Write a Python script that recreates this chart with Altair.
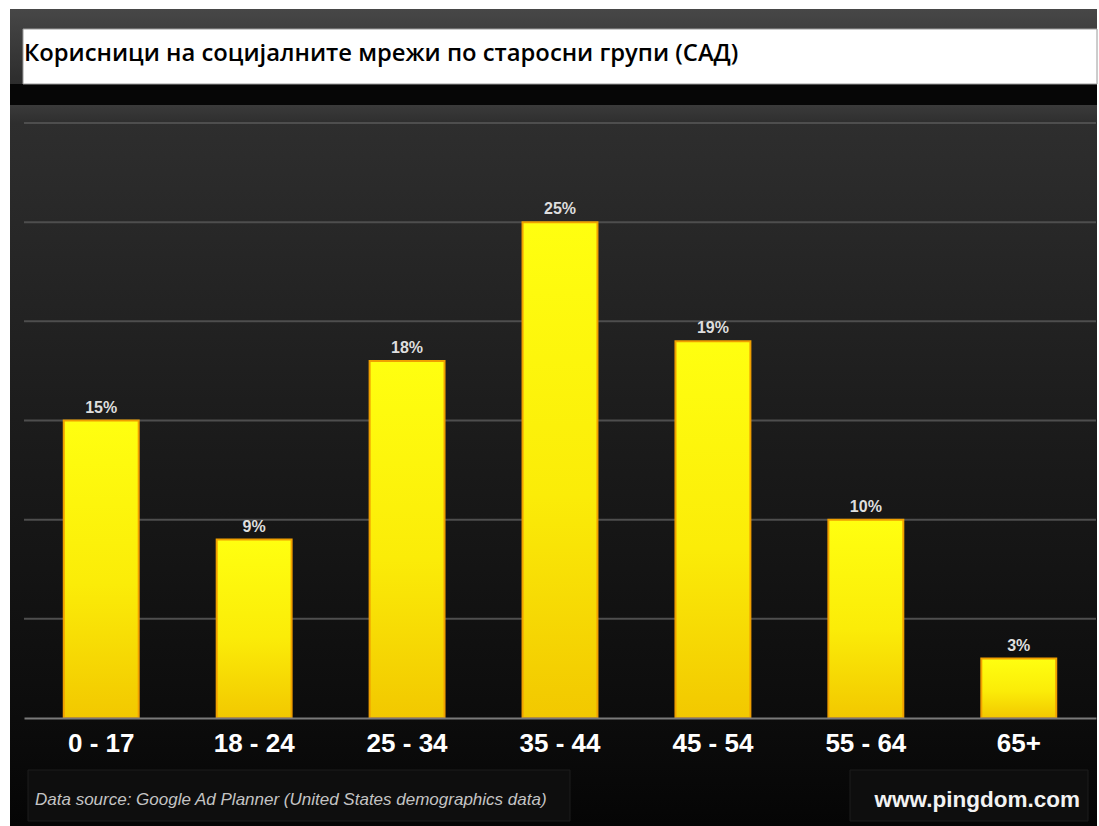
import altair as alt
import pandas as pd

# ---- data ----
groups = ["0 - 17", "18 - 24", "25 - 34", "35 - 44", "45 - 54", "55 - 64", "65+"]
values = [15, 9, 18, 25, 19, 10, 3]
value_labels = ["15%", "9%", "18%", "25%", "19%", "10%", "3%"]
grid_values = [5, 10, 15, 20, 25, 30]
title_text = "Корисници на социјалните мрежи по старосни групи (САД)"
source_text = "Data source: Google Ad Planner (United States demographics data)"
brand_text = "www.pingdom.com"

W, H = 1072, 595

df = pd.DataFrame({"group": groups, "value": values, "label": value_labels})
grid_df = pd.DataFrame({"g": grid_values})
one = alt.Data(values=[{"k": 1}])

yscale = alt.Scale(domain=[0, 30], nice=False, zero=True)
xscale = alt.Scale(domain=groups, paddingInner=0.51, paddingOuter=0.26)

LABEL_FONT = "Liberation Sans"

panel = alt.Chart(one).mark_rect(
    fill=alt.Gradient(
        gradient="linear", x1=0, y1=0, x2=0, y2=1,
        stops=[
            alt.GradientStop(offset=0.0, color="#474747"),
            alt.GradientStop(offset=0.092, color="#2c2c2c"),
            alt.GradientStop(offset=0.092, color="#060606"),
            alt.GradientStop(offset=0.118, color="#060606"),
            alt.GradientStop(offset=0.118, color="#3a3a3a"),
            alt.GradientStop(offset=0.14, color="#2e2e2e"),
            alt.GradientStop(offset=0.50, color="#1c1c1c"),
            alt.GradientStop(offset=0.87, color="#0c0c0c"),
            alt.GradientStop(offset=1.0, color="#050505"),
        ],
    )
).encode(x=alt.value(-14), x2=alt.value(1073), y=alt.value(-114), y2=alt.value(703))

grid = alt.Chart(grid_df).mark_rule(color="#4e4e4e", strokeWidth=2).encode(
    y=alt.Y("g:Q", scale=yscale, axis=None)
)

bars = alt.Chart(df).mark_bar(
    fill=alt.Gradient(
        gradient="linear", x1=0, y1=0, x2=0, y2=1,
        stops=[
            alt.GradientStop(offset=0.0, color="#ffff10"),
            alt.GradientStop(offset=0.55, color="#fbec08"),
            alt.GradientStop(offset=1.0, color="#f2c800"),
        ],
    ),
    stroke="#f0a000",
    strokeWidth=2,
).encode(
    x=alt.X(
        "group:N", sort=groups, scale=xscale,
        axis=alt.Axis(
            title=None, labelAngle=0, labelColor="white", labelFont=LABEL_FONT,
            labelFontSize=26, labelFontWeight="bold", labelPadding=12,
            ticks=False, grid=False, domainColor="#7a7a7a", domainWidth=2,
            zindex=1,
        ),
    ),
    y=alt.Y("value:Q", scale=yscale, axis=None),
)

bar_labels = alt.Chart(df).mark_text(
    baseline="bottom", dy=-5, color="#dedede", font=LABEL_FONT,
    fontSize=16, fontWeight="bold",
).encode(
    x=alt.X("group:N", sort=groups, scale=xscale),
    y=alt.Y("value:Q", scale=yscale),
    text="label:N",
)

title_box = alt.Chart(one).mark_rect(fill="white", stroke="#9a9a9a", strokeWidth=1).encode(
    x=alt.value(-1), x2=alt.value(1073), y=alt.value(-94), y2=alt.value(-39)
)
title = alt.Chart(one).mark_text(
    align="left", baseline="middle", fontSize=23.8, font="Open Sans",
    fontWeight=600, color="black"
).encode(x=alt.value(0), y=alt.value(-69), text=alt.value(title_text))

foot_left = alt.Chart(one).mark_rect(fill="#0e0e0e", stroke="#1c1c1c").encode(
    x=alt.value(4), x2=alt.value(546), y=alt.value(647), y2=alt.value(698)
)
foot_right = alt.Chart(one).mark_rect(fill="#0e0e0e", stroke="#1c1c1c").encode(
    x=alt.value(826), x2=alt.value(1064), y=alt.value(647), y2=alt.value(698)
)
source = alt.Chart(one).mark_text(
    align="left", baseline="middle", fontSize=17, font=LABEL_FONT,
    fontStyle="italic", color="#c4c4c4",
).encode(x=alt.value(11), y=alt.value(677), text=alt.value(source_text))
brand = alt.Chart(one).mark_text(
    align="right", baseline="middle", fontSize=22.5, font=LABEL_FONT,
    fontWeight="bold", color="#f2f2f2",
).encode(x=alt.value(1056), y=alt.value(677), text=alt.value(brand_text))

chart = alt.layer(
    panel, grid, bars, bar_labels, title_box, title, foot_left, foot_right, source, brand
).properties(
    width=W, height=H,
    autosize=alt.AutoSizeParams(type="none"),
    padding={"left": 24, "top": 123, "right": 3, "bottom": 108},
).configure(background="white").configure_view(stroke=None)

chart.save("out.html", embed_options={"renderer": "svg", "actions": False})
